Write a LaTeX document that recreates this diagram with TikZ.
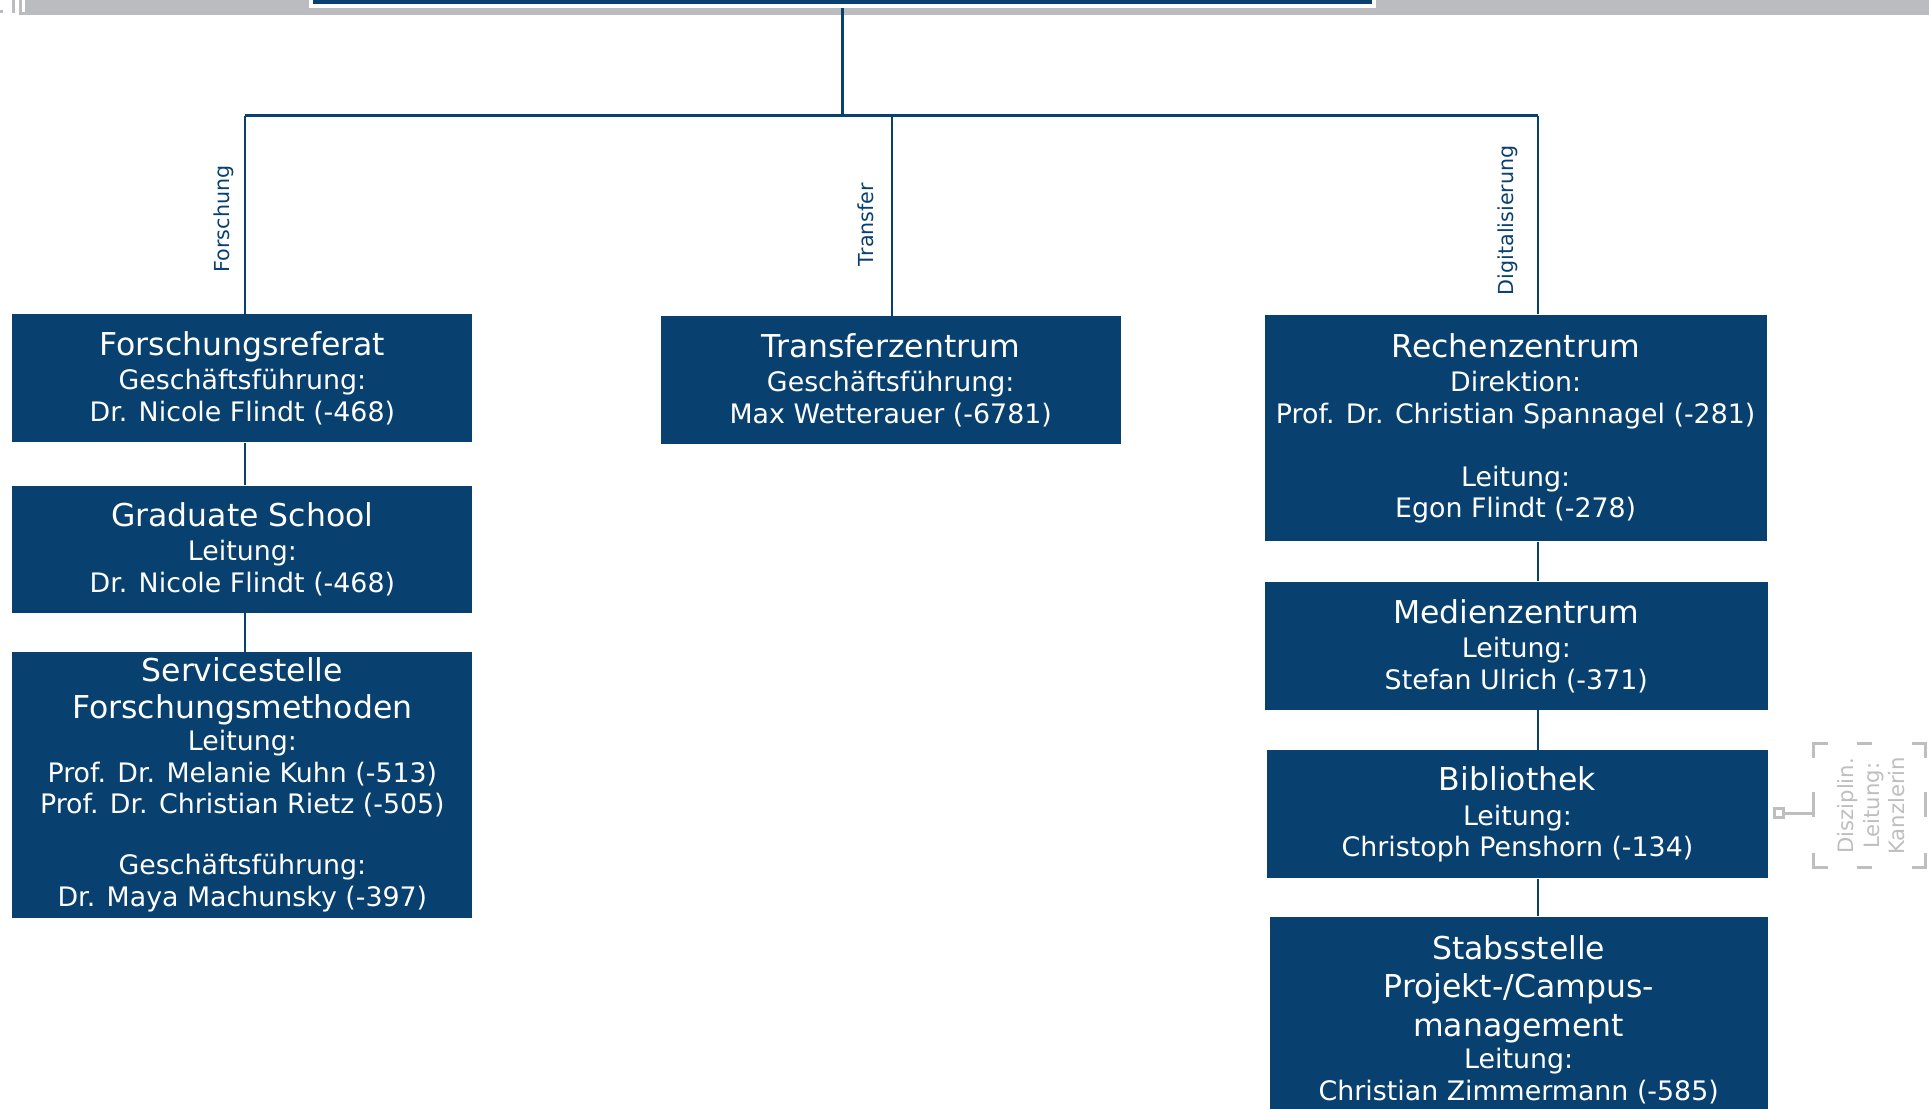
\documentclass[tikz,border=0pt]{standalone}
\usepackage{fontspec}
\setmainfont{DejaVu Sans}
\definecolor{kblue}{RGB}{8,64,112}
\definecolor{kband}{RGB}{187,188,192}
\definecolor{kbrk}{RGB}{190,190,192}
\newcommand{\ttl}[1]{{\fontsize{12.8}{14.5}\selectfont #1}}
\begin{document}
\begin{tikzpicture}[x=0.5pt,y=-0.5pt,
  orgbox/.style={rectangle, fill=kblue, text=white, inner sep=0pt, align=center,
    font=\fontsize{10.9}{12.8}\selectfont},
  conn/.style={draw=kblue, line width=1pt},
  vlabel/.style={rotate=90, text=kblue, inner sep=0pt, font=\fontsize{8.4}{10}\selectfont},
  brk/.style={draw=kbrk, line width=1.2pt}]
\useasboundingbox (0,0) rectangle (1568,901);
\clip (0,0) rectangle (1568,901);
% grey band at the top
\fill[kband] (20,0) rectangle (1568,12);
\fill[kband] (0,8) rectangle (2.4,10.5);
\fill[kband] (10,0) rectangle (12,10.5);
\draw[kband, line width=1.2pt] (17,0) -- (17,11) -- (20,11);
% top box
\node[rectangle, fill=kblue, draw=white, line width=1.5pt, inner sep=0pt,
  minimum width=432pt, minimum height=14pt] (top) at (685,-9) {};
% bus
\coordinate (cL) at (199,94);
\coordinate (cM) at (725,94);
\coordinate (cR) at (1250,94);
% boxes
\node[orgbox, minimum width=187pt, minimum height=52pt] (fr) at (197,307.5)
  {\ttl{Forschungsreferat}\\[1.2pt] Geschäftsführung:\\ Dr. Nicole Flindt (-468)};
\node[orgbox, minimum width=187pt, minimum height=51.5pt] (gs) at (197,446.5)
  {\ttl{Graduate School}\\[1.2pt] Leitung:\\ Dr. Nicole Flindt (-468)};
\node[orgbox, minimum width=187pt, minimum height=108pt] (sm) at (197,638)
  {\ttl{Servicestelle}\\[2pt] \ttl{Forschungsmethoden}\\[0.4pt] Leitung:\\ Prof. Dr. Melanie Kuhn (-513)\\ Prof. Dr. Christian Rietz (-505)\\[12pt] Geschäftsführung:\\ Dr. Maya Machunsky (-397)};
\node[orgbox, minimum width=187pt, minimum height=52pt] (tz) at (724,309)
  {\ttl{Transferzentrum}\\[1.2pt] Geschäftsführung:\\ Max Wetterauer (-6781)};
\node[orgbox, minimum width=204pt, minimum height=92pt] (rz) at (1232,348)
  {\ttl{Rechenzentrum}\\[1.2pt] Direktion:\\ Prof. Dr. Christian Spannagel (-281)\\[12.8pt] Leitung:\\ Egon Flindt (-278)};
\node[orgbox, minimum width=204.5pt, minimum height=52pt] (mz) at (1232.5,525)
  {\ttl{Medienzentrum}\\[1.2pt] Leitung:\\ Stefan Ulrich (-371)};
\node[orgbox, minimum width=203.5pt, minimum height=52pt] (bib) at (1233.5,662)
  {\ttl{Bibliothek}\\[1.2pt] Leitung:\\ Christoph Penshorn (-134)};
\node[orgbox, minimum width=202.5pt, minimum height=84pt] (st) at (1234.5,829)
  {\ttl{Stabsstelle}\\[2.7pt] \ttl{Projekt-/Campus-}\\[2.7pt] \ttl{management}\\[0.5pt] Leitung:\\ Christian Zimmermann (-585)};
% connectors
\draw[conn] (top.south) -- (top.south |- cL);
\draw[conn] (cL) -- (cR);
\draw[conn] (cL) -- (cL |- fr.north);
\draw[conn] (cM) -- (cM |- tz.north);
\draw[conn] (cR) -- (cR |- rz.north);
\draw[conn] (cL |- fr.south) -- (cL |- gs.north);
\draw[conn] (cL |- gs.south) -- (cL |- sm.north);
\draw[conn] (cR |- rz.south) -- (cR |- mz.north);
\draw[conn] (cR |- mz.south) -- (cR |- bib.north);
\draw[conn] (cR |- bib.south) -- (cR |- st.north);
% line labels
\node[vlabel] (lf) at (182,178) {Forschung};
\node[vlabel] (lt) at (704,182.5) {Transfer};
\node[vlabel] (ld) at (1226,179) {Digitalisierung};
% disciplinary bracket
\node[draw=kbrk, line width=1.2pt, minimum size=3.5pt, inner sep=0pt] (sq) at (1446,661) {};
\coordinate (bl) at (1474,661);
\draw[brk] (sq.east) -- (bl);
\draw[brk] (1474,616) -- (1474,604) -- (1486,604);
\draw[brk] (1509.5,604) -- (1521.5,604);
\draw[brk] (1554,604) -- (1565,604) -- (1565,616);
\draw[brk] (1474,644) -- (1474,664);
\draw[brk] (1565,644) -- (1565,664);
\draw[brk] (1474,693) -- (1474,705.5) -- (1486,705.5);
\draw[brk] (1509.5,705.5) -- (1521.5,705.5);
\draw[brk] (1554,705.5) -- (1565,705.5) -- (1565,693);
\node[rotate=90, text=kbrk, align=center, inner sep=0pt,
  font=\fontsize{8.6}{10.5}\selectfont] (kz) at (1521,655) {Disziplin.\\ Leitung:\\ Kanzlerin};
\end{tikzpicture}
\end{document}
